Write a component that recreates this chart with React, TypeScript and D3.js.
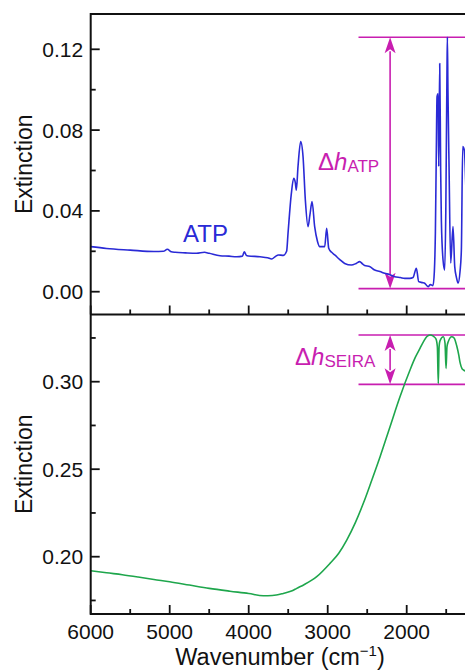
import React from "react";
import * as d3 from "d3";

// ATP reference spectrum (top panel)
const atpWavenumber = [
  6000, 5800, 5500, 5200, 5080, 5030, 4980, 4930, 4800, 4660, 4560, 4500, 4363, 4250, 4152, 4080, 4056, 4030,
  4005, 3857, 3760, 3709, 3660, 3625, 3560, 3520, 3502, 3460, 3430, 3410, 3397, 3376, 3342, 3312, 3283, 3249,
  3225, 3198, 3165, 3130, 3101, 3038, 3013, 2987, 2950, 2911, 2850, 2785, 2700, 2640, 2595, 2560, 2532, 2470,
  2405, 2340, 2278, 2220, 2152, 2080, 2025, 1960, 1920, 1878, 1848, 1800, 1772, 1730, 1700, 1667, 1650, 1637,
  1625, 1616, 1603, 1595, 1582, 1570, 1561, 1540, 1519, 1505, 1490, 1485, 1478, 1464, 1443, 1414, 1392, 1370,
  1350, 1325, 1308, 1291, 1270, 1250, 1230,
];
const atpExtinction = [
  0.0223, 0.0214, 0.0206, 0.0199, 0.02, 0.021, 0.0198, 0.0195, 0.0192, 0.019, 0.0195, 0.019, 0.0178, 0.0176,
  0.0173, 0.0176, 0.0198, 0.018, 0.0177, 0.0173, 0.0168, 0.0162, 0.0175, 0.0182, 0.018, 0.02, 0.029, 0.0487,
  0.0561, 0.054, 0.0503, 0.0619, 0.0743, 0.0668, 0.0454, 0.0322, 0.038, 0.0446, 0.0322, 0.025, 0.0223, 0.0223,
  0.0314, 0.0215, 0.0195, 0.0182, 0.016, 0.014, 0.0132, 0.014, 0.0149, 0.0138, 0.013, 0.0125, 0.0107, 0.01,
  0.0091, 0.0085, 0.0074, 0.007, 0.0066, 0.0066, 0.007, 0.0116, 0.005, 0.0045, 0.0042, 0.0025, 0.0035, 0.003,
  0.01, 0.029, 0.07, 0.0966, 0.098, 0.062, 0.113, 0.06, 0.035, 0.0157, 0.0107, 0.04, 0.11, 0.126, 0.1, 0.062,
  0.0142, 0.0322, 0.0124, 0.007, 0.0042, 0.01, 0.0206, 0.0718, 0.07, 0.05, 0.02,
];

// SEIRA spectrum (bottom panel)
const seiraWavenumber = [
  6000, 5800, 5600, 5400, 5200, 5000, 4750, 4500, 4237, 4000, 3815, 3700, 3562, 3450, 3392, 3300, 3139, 2971,
  2860, 2759, 2650, 2549, 2440, 2338, 2211, 2085, 1958, 1890, 1832, 1780, 1747, 1705, 1663, 1630, 1612, 1600,
  1590, 1578, 1536, 1515, 1502, 1490, 1473, 1430, 1400, 1367, 1340, 1325, 1300, 1283, 1250,
];
const seiraExtinction = [
  0.192, 0.1908, 0.1897, 0.1884, 0.187, 0.1857, 0.1838, 0.1819, 0.1803, 0.179, 0.1777, 0.1778, 0.179, 0.1805,
  0.1819, 0.184, 0.1886, 0.1962, 0.202, 0.2095, 0.2195, 0.2305, 0.244, 0.257, 0.2743, 0.2914, 0.3067, 0.314,
  0.319, 0.3235, 0.3257, 0.3267, 0.326, 0.3245, 0.32, 0.299, 0.32, 0.3235, 0.3257, 0.322, 0.3076, 0.32, 0.323,
  0.3257, 0.325, 0.3205, 0.315, 0.311, 0.3075, 0.3067, 0.306,
];

const xMajorTicks = [6000, 5000, 4000, 3000, 2000, 1000];
const xMinorTicks = [5500, 4500, 3500, 2500, 1500];
const xTickLabels = [6000, 5000, 4000, 3000, 2000];
const atpMajorTicks = [0, 0.04, 0.08, 0.12];
const atpMinorTicks = [0.02, 0.06, 0.1];
const seiraMajorTicks = [0.2, 0.25, 0.3];
const seiraMinorTicks = [0.175, 0.225, 0.275, 0.325];

// Band heights marked with Δh
const atpSpan = [0.0015, 0.126];
const seiraSpan = [0.2985, 0.3267];
const spanStart = 2610;
const spanArrowAt = 2210;

const W = 465;
const H = 672;
const FONT = "'Liberation Sans', Arial, sans-serif";
const BLUE = "#2a2ad6";
const GREEN = "#1ea64c";
const MAGENTA = "#c81eb0";
const AXIS = "#111";

const plotLeft = 90.7;
const topPanel = { y0: 14, y1: 314.5 };
const botPanel = { y0: 314.5, y1: 614 };

const x = d3.scaleLinear().domain([6000, 2000]).range([plotLeft, 406.7]);
const yTop = d3.scaleLinear().domain([0, 0.12]).range([291.7, 49.3]);
const yBot = d3.scaleLinear().domain([0.2, 0.3]).range([556.7, 381.7]);
const fmt = d3.format(".2f");

function lineFor(xs: number[], ys: number[], y: d3.ScaleLinear<number, number>) {
  const pts = xs.map((w, i) => [w, ys[i]] as [number, number]);
  return d3
    .line<[number, number]>()
    .x((d) => x(d[0]))
    .y((d) => y(d[1]))
    .curve(d3.curveMonotoneX)(pts) as string;
}

function Arrow({ xPos, yA, yB }: { xPos: number; yA: number; yB: number }) {
  const hl = 16;
  const hw = 5.5;
  const top = Math.min(yA, yB);
  const bot = Math.max(yA, yB);
  return (
    <g fill={MAGENTA} stroke={MAGENTA}>
      <line x1={xPos} x2={xPos} y1={top + hl - 2} y2={bot - hl + 2} strokeWidth={1.6} />
      <path d={`M${xPos},${top} L${xPos + hw},${top + hl} L${xPos},${top + hl - 4} L${xPos - hw},${top + hl} Z`} stroke="none" />
      <path d={`M${xPos},${bot} L${xPos + hw},${bot - hl} L${xPos},${bot - hl + 4} L${xPos - hw},${bot - hl} Z`} stroke="none" />
    </g>
  );
}

function YAxis({
  y,
  major,
  minor,
  panel,
}: {
  y: d3.ScaleLinear<number, number>;
  major: number[];
  minor: number[];
  panel: { y0: number; y1: number };
}) {
  return (
    <g>
      {major.map((v) => (
        <g key={"M" + v}>
          <line x1={plotLeft} x2={plotLeft + 9} y1={y(v)} y2={y(v)} stroke={AXIS} strokeWidth={1.8} />
          <text x={plotLeft - 7.5} y={y(v)} dy="0.36em" textAnchor="end" fontSize={21} fill="#111">
            {fmt(v)}
          </text>
        </g>
      ))}
      {minor.map((v) => (
        <line key={"m" + v} x1={plotLeft} x2={plotLeft + 5} y1={y(v)} y2={y(v)} stroke={AXIS} strokeWidth={1.8} />
      ))}
      <text
        transform={`translate(32,${(panel.y0 + panel.y1) / 2}) rotate(-90)`}
        textAnchor="middle"
        fontSize={23}
        fill="#111"
      >
        Extinction
      </text>
    </g>
  );
}

function XTicks({ yBase }: { yBase: number }) {
  return (
    <g>
      {xMajorTicks.map((v) => (
        <line key={"M" + v} x1={x(v)} x2={x(v)} y1={yBase} y2={yBase - 9} stroke={AXIS} strokeWidth={1.8} />
      ))}
      {xMinorTicks.map((v) => (
        <line key={"m" + v} x1={x(v)} x2={x(v)} y1={yBase} y2={yBase - 5} stroke={AXIS} strokeWidth={1.8} />
      ))}
    </g>
  );
}

export default function App() {
  const atpPath = lineFor(atpWavenumber, atpExtinction, yTop);
  const seiraPath = lineFor(seiraWavenumber, seiraExtinction, yBot);
  const xEnd = W + 10;

  return (
    <svg
      width={W}
      height={H}
      style={{ position: "absolute", left: 0, top: 0, background: "#fff" }}
      fontFamily={FONT}
    >
      <defs>
        <clipPath id="clipTop">
          <rect x={plotLeft} y={topPanel.y0} width={xEnd - plotLeft} height={topPanel.y1 - topPanel.y0} />
        </clipPath>
        <clipPath id="clipBot">
          <rect x={plotLeft} y={botPanel.y0} width={xEnd - plotLeft} height={botPanel.y1 - botPanel.y0} />
        </clipPath>
      </defs>

      {/* Δh markers */}
      <g stroke={MAGENTA} strokeWidth={1.6}>
        {atpSpan.map((v) => (
          <line key={"a" + v} x1={x(spanStart)} x2={xEnd} y1={yTop(v)} y2={yTop(v)} />
        ))}
        {seiraSpan.map((v) => (
          <line key={"s" + v} x1={x(spanStart)} x2={xEnd} y1={yBot(v)} y2={yBot(v)} />
        ))}
      </g>
      <Arrow xPos={x(spanArrowAt)} yA={yTop(atpSpan[1])} yB={yTop(atpSpan[0])} />
      <Arrow xPos={x(spanArrowAt)} yA={yBot(seiraSpan[1])} yB={yBot(seiraSpan[0])} />

      <text x={318} y={170} fill={MAGENTA} fontSize={24}>
        <tspan>Δ</tspan>
        <tspan fontStyle="italic">h</tspan>
        <tspan fontSize={17} dy={1.5}>ATP</tspan>
      </text>
      <text x={295} y={365} fill={MAGENTA} fontSize={24}>
        <tspan>Δ</tspan>
        <tspan fontStyle="italic">h</tspan>
        <tspan fontSize={17} dy={1.5}>SEIRA</tspan>
      </text>

      {/* spectra */}
      <path d={atpPath} fill="none" stroke={BLUE} strokeWidth={1.6} strokeLinejoin="round" clipPath="url(#clipTop)" />
      <path d={seiraPath} fill="none" stroke={GREEN} strokeWidth={1.6} strokeLinejoin="round" clipPath="url(#clipBot)" />

      <text x={183} y={241.5} fill={BLUE} fontSize={24}>
        ATP
      </text>

      {/* frames and axes */}
      <g stroke={AXIS} strokeWidth={2}>
        <line x1={plotLeft} x2={xEnd} y1={topPanel.y0} y2={topPanel.y0} />
        <line x1={plotLeft} x2={xEnd} y1={topPanel.y1} y2={topPanel.y1} />
        <line x1={plotLeft} x2={xEnd} y1={botPanel.y1} y2={botPanel.y1} />
        <line x1={plotLeft} x2={plotLeft} y1={topPanel.y0 - 1} y2={botPanel.y1 + 1} />
      </g>
      <XTicks yBase={topPanel.y1} />
      <XTicks yBase={botPanel.y1} />
      <YAxis y={yTop} major={atpMajorTicks} minor={atpMinorTicks} panel={topPanel} />
      <YAxis y={yBot} major={seiraMajorTicks} minor={seiraMinorTicks} panel={botPanel} />

      {xTickLabels.map((v) => (
        <text key={"xl" + v} x={x(v)} y={638.5} textAnchor="middle" fontSize={21} fill="#111">
          {v}
        </text>
      ))}
      <text x={280} y={665} textAnchor="middle" fontSize={23.5} fill="#111">
        Wavenumber (cm
        <tspan fontSize={15} dy={-9}>−1</tspan>
        <tspan dy={9}>)</tspan>
      </text>
    </svg>
  );
}
